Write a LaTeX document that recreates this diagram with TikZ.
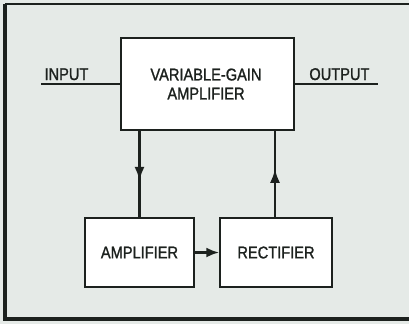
\documentclass[tikz,border=0pt]{standalone}
\usepackage{fontspec}
\setmainfont{Liberation Sans}[FakeStretch=0.86,FakeBold=1.2]
\usetikzlibrary{arrows.meta,decorations.markings}
\definecolor{bg}{HTML}{E5EAE7}
\definecolor{ink}{HTML}{1C211E}
\begin{document}
\begin{tikzpicture}[x=1pt,y=-1pt,
  blk/.style={draw=ink,line width=1.4pt,fill=white,inner sep=0pt},
  lbl/.style={font=\fontsize{17}{19}\selectfont,text=ink,align=center},
  wire/.style={draw=ink,line width=2.6pt},
  midarrow/.style={postaction={decorate},decoration={markings,
    mark=at position #1 with {\arrow{Latex[length=14pt,width=10pt]}}}}
]
\useasboundingbox (0,0) rectangle (409,324);
\fill[bg] (0,0) rectangle (409,324);
\draw[ink,line width=4pt] (5,4) -- (5,319) -- (412,319);
\draw[ink,line width=2.5pt] (5,4) -- (412,4);
% boxes
\node[blk,minimum width=173pt,minimum height=92pt] (vga) at (207.5,84) {};
\node[lbl] (vgat) at (206,84) {VARIABLE-GAIN\\AMPLIFIER};
\node[blk,minimum width=109pt,minimum height=69pt] (amp) at (139.5,252.5) {};
\node[lbl] at (amp.center) {AMPLIFIER};
\node[blk,minimum width=112pt,minimum height=69pt] (rect) at (276,252.5) {};
\node[lbl] at (rect.center) {RECTIFIER};
% input / output
\coordinate (in) at (41,84);
\coordinate (out) at (378,84);
\draw[wire] (in) -- (vga.west);
\draw[wire] (vga.east) -- (out);
\node[lbl,anchor=base west] (inl) at (41,80) {INPUT};
\node[lbl,anchor=base east] (outl) at (373,80) {OUTPUT};
% feedback loop
\draw[wire,midarrow=0.58] (vga.south -| amp.center) -- (amp.north);
\draw[wire,midarrow=0.56] (rect.north -| 275,0) -- (vga.south -| 275,0);
\draw[wire,-{Latex[length=13pt,width=10pt]}] (amp.east) -- (rect.west);
\end{tikzpicture}
\end{document}
